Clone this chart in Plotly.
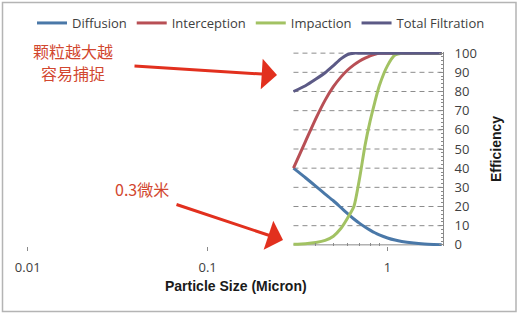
import plotly.graph_objects as go

# ---- data ----
particle_size = [0.3, 0.35, 0.4, 0.45, 0.5, 0.55, 0.6, 0.65, 0.7, 0.75, 0.8, 0.85, 0.9, 1.0, 1.1, 1.2, 1.4, 1.6, 1.8, 2.0]
diffusion     = [40, 35, 30.5, 26.5, 23, 19.5, 16.3, 13.5, 11.2, 9.3, 7.7, 6.3, 5.2, 3.6, 2.5, 1.8, 1, 0.5, 0.2, 0]
interception  = [40, 54, 66, 75.5, 82.5, 87.5, 91.2, 93.9, 95.9, 97.4, 98.6, 99.4, 99.9, 100, 100, 100, 100, 100, 100, 100]
impaction     = [0.3, 0.6, 1.2, 2.3, 4.5, 8.5, 14, 20, 35, 52, 64.5, 74.5, 83, 93.5, 99, 100, 100, 100, 100, 100]
total         = [80, 83, 86.5, 89.8, 93.5, 97, 99.3, 100, 100, 100, 100, 100, 100, 100, 100, 100, 100, 100, 100, 100]

series_names = ["Diffusion", "Interception", "Impaction", "Total Filtration"]
series_values = [diffusion, interception, impaction, total]
series_colors = ["#4a78a8", "#b84f55", "#a2c263", "#5c5a86"]

x_tickvals = [0.01, 0.1, 1]
x_ticktext = ["0.01", "0.1", "1"]
x_minor = [0.4, 0.5, 0.6, 0.7, 0.8, 0.9]
y_ticks = list(range(0, 101, 10))

# ---- layout geometry ----
W_FIG, H_FIG = 520, 314
L, R, T, B = 10, 77, 52, 68
PW, PH = W_FIG - L - R, H_FIG - T - B


def px(x):
    return (x - L) / PW


def py(y):
    return 1 - (y - T) / PH


fig = go.Figure()

# dashed gridlines spanning only the data range
xmin, xmax = min(particle_size), max(particle_size)
for yv in y_ticks[1:]:
    fig.add_trace(go.Scatter(
        x=[xmin, xmax], y=[yv, yv], mode="lines",
        line=dict(color="#8c8c8c", width=1, dash="5px,4px"),
        showlegend=False, hoverinfo="skip"))

# x axis line only across data range
fig.add_trace(go.Scatter(
    x=[xmin, xmax], y=[0, 0], mode="lines",
    line=dict(color="#8a8a8a", width=1),
    showlegend=False, hoverinfo="skip"))

for name, vals, col in zip(series_names, series_values, series_colors):
    fig.add_trace(go.Scatter(
        x=particle_size, y=vals, mode="lines", name=name,
        line=dict(color=col, width=3, shape="spline", smoothing=0.6)))

fig.update_layout(
    width=W_FIG, height=H_FIG,
    margin=dict(l=L, r=R, t=T, b=B, autoexpand=False),
    paper_bgcolor="white", plot_bgcolor="white",
    font=dict(family="Open Sans", size=13, color="#404040"),
    showlegend=True,
    legend=dict(orientation="h", xref="paper", yref="paper",
                x=px(490), xanchor="right", y=py(23), yanchor="middle",
                font=dict(family="Open Sans", size=13, color="#404040"),
                itemwidth=30, bgcolor="rgba(0,0,0,0)"),
    xaxis=dict(type="log", range=[-2.0985, 0.3083],
               tickmode="array", tickvals=x_tickvals, ticktext=x_ticktext,
               ticks="outside", ticklen=4, tickcolor="#8a8a8a",
               showline=False, showgrid=False, zeroline=False,
               ticklabelstandoff=5,
               minor=dict(tickmode="array", tickvals=x_minor, ticks="inside",
                          ticklen=3, tickcolor="#8a8a8a", showgrid=False)),
    yaxis=dict(side="right", range=[-0.6, 100.6],
               tickmode="array", tickvals=y_ticks,
               ticks="inside", ticklen=4, tickcolor="#8a8a8a",
               showline=True, linecolor="#8a8a8a", linewidth=1,
               showgrid=False, zeroline=False, ticklabelstandoff=8,
               minor=dict(dtick=2, ticks="inside", ticklen=2, tickcolor="#8a8a8a"),
               title=dict(text="<b>Efficiency</b>", standoff=15,
                          font=dict(family="Liberation Sans", size=14, color="#1a1a1a"))),
)

# outer light-gray frame
fig.add_shape(type="rect", xref="paper", yref="paper",
              x0=px(2.5), x1=px(516), y0=py(311.5), y1=py(2.5),
              line=dict(color="#b4b4b4", width=1.5), fillcolor="rgba(0,0,0,0)", layer="below")

# x axis title
fig.add_annotation(xref="paper", yref="paper", x=px(236), y=py(286),
                   text="<b>Particle Size (Micron)</b>", showarrow=False,
                   font=dict(family="Liberation Sans", size=14, color="#1a1a1a"),
                   xanchor="center", yanchor="middle")

# Chinese notes
note_color = "#d2472f"
note_font = dict(family="Noto Sans CJK SC", size=16, color=note_color)
fig.add_annotation(xref="paper", yref="paper", x=px(73), y=py(51),
                   text="颗粒越大越", showarrow=False, font=note_font,
                   xanchor="center", yanchor="middle")
fig.add_annotation(xref="paper", yref="paper", x=px(73), y=py(73),
                   text="容易捕捉", showarrow=False, font=note_font,
                   xanchor="center", yanchor="middle")
fig.add_annotation(xref="paper", yref="paper", x=px(142), y=py(189),
                   text="0.3微米", showarrow=False, font=note_font,
                   xanchor="center", yanchor="middle")

# arrows
arrow_color = "#e2301e"
fig.add_annotation(xref="paper", yref="paper", x=px(277), y=py(75),
                   ax=133 - 277, ay=66 - 75, text="", showarrow=True,
                   arrowhead=1, arrowsize=1.7, arrowwidth=3, arrowcolor=arrow_color)
fig.add_annotation(xref="paper", yref="paper", x=px(283), y=py(240),
                   ax=175 - 283, ay=204 - 240, text="", showarrow=True,
                   arrowhead=1, arrowsize=1.7, arrowwidth=3, arrowcolor=arrow_color)

fig.write_html("out.html")
